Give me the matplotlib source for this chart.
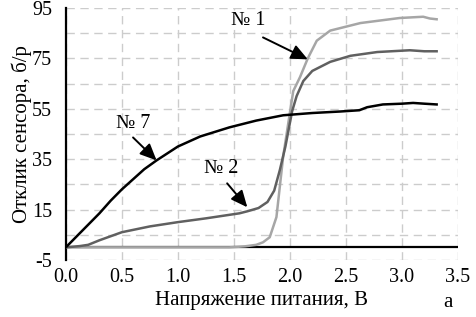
import matplotlib
matplotlib.use("Agg")
import matplotlib.pyplot as plt
import numpy as np

plt.rcParams["font.family"] = ["Liberation Serif", "DejaVu Serif"]
plt.rcParams["axes.unicode_minus"] = False

# sample No 7 (black)
x7 = [0.0, 0.1, 0.2, 0.3, 0.4, 0.5, 0.6, 0.7, 0.81, 1.0, 1.2, 1.46, 1.7, 1.94, 2.2, 2.45, 2.62, 2.69, 2.83, 3.0, 3.1, 3.2, 3.31]
y7 = [0.0, 4.5, 9.0, 13.5, 18.5, 23.0, 27.0, 31.0, 34.5, 40.0, 44.0, 47.6, 50.3, 52.4, 53.3, 53.9, 54.4, 55.6, 56.7, 57.0, 57.3, 57.0, 56.7]

# sample No 2 (dark gray)
x2 = [0.0, 0.125, 0.2, 0.3, 0.5, 0.75, 1.0, 1.25, 1.55, 1.62, 1.72, 1.8, 1.86, 1.91, 1.96, 2.02, 2.06, 2.12, 2.2, 2.36, 2.54, 2.78, 3.07, 3.2, 3.31]
y2 = [0.0, 0.5, 1.0, 2.8, 6.0, 8.3, 10.0, 11.5, 13.5, 14.3, 15.6, 18.0, 22.5, 30.6, 40.0, 54.0, 60.0, 66.0, 70.0, 73.6, 76.0, 77.5, 78.2, 77.8, 77.8]

# sample No 1 (light gray)
x1 = [0.0, 0.5, 1.0, 1.46, 1.6, 1.7, 1.76, 1.82, 1.88, 1.94, 1.98, 2.03, 2.09, 2.16, 2.24, 2.36, 2.63, 2.98, 3.19, 3.25, 3.31]
y1 = [0.0, 0.0, 0.0, 0.0, 0.4, 1.0, 2.0, 4.0, 12.0, 36.0, 47.6, 62.0, 67.5, 75.0, 82.0, 86.0, 89.0, 91.0, 91.5, 90.8, 90.5]

# labels: text position, arrow start, arrow tip
labels = ["№ 1", "№ 7", "№ 2"]
label_xy = [(1.63, 90.0), (0.6, 49.2), (1.39, 31.3)]
arrow_from = [(1.76, 83.3), (0.6, 43.6), (1.44, 25.4)]
arrow_to = [(2.16, 74.6), (0.81, 34.5), (1.62, 15.9)]

fig = plt.figure(figsize=(4.77, 3.17), dpi=100)
ax = fig.add_axes([0.138, 0.180, 0.822, 0.795])

ax.set_xlim(0, 3.5)
ax.set_ylim(-5, 95)
ax.set_xticks(np.arange(0, 3.51, 0.5))
ax.set_yticks(np.arange(-5, 96, 20))
ax.set_yticks(np.arange(-5, 96, 10), minor=True)
ax.xaxis.set_major_formatter(matplotlib.ticker.FormatStrFormatter("%.1f"))
ax.grid(True, which="both", linestyle=(0, (6, 4)), color="#cccccc", linewidth=1.0)
ax.tick_params(which="both", length=0, labelsize=14.5)
ax.tick_params(axis="y", pad=10)
ax.tick_params(axis="x", pad=6)

for s in ["top", "right", "bottom"]:
    ax.spines[s].set_visible(False)
ax.spines["left"].set_linewidth(1.6)
ax.axhline(0, color="black", linewidth=1.6, zorder=2)

ax.plot(x1, y1, color="#a6a6a6", linewidth=1.8, zorder=3)
ax.plot(x2, y2, color="#606060", linewidth=1.8, zorder=4)
ax.plot(x7, y7, color="black", linewidth=1.8, zorder=5)

arrow = dict(arrowstyle="-|>,head_length=1.0,head_width=0.45", color="black", lw=1.4,
             shrinkA=0, shrinkB=0)
for lab, pos, a0, a1 in zip(labels, label_xy, arrow_from, arrow_to):
    ax.text(pos[0], pos[1], lab, fontsize=14.5, ha="center", va="center", zorder=6)
    ax.annotate("", xy=a1, xytext=a0, arrowprops=arrow, zorder=6)

ax.set_xlabel("Напряжение питания, В", fontsize=15, labelpad=3)
ax.set_ylabel("Отклик сенсора, б/р", fontsize=15, labelpad=0)
fig.text(0.94, 0.045, "а", fontsize=15, ha="center", va="center")

fig.savefig("out.png", dpi=100)
